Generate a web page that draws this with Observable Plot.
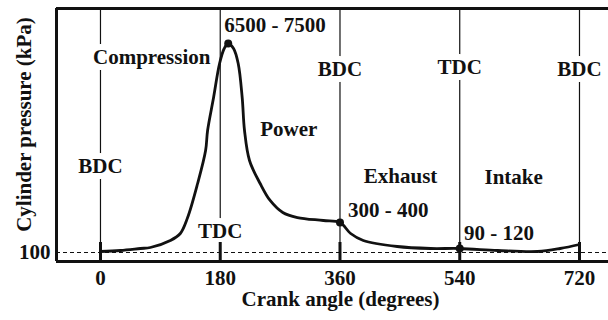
<!DOCTYPE html>
<html><head><meta charset="utf-8">
<script src="https://cdn.jsdelivr.net/npm/d3@7"></script>
<script src="https://cdn.jsdelivr.net/npm/@observablehq/plot@0.6"></script>
<style>body{margin:0;background:#fff} #chart{width:608px;height:320px}</style>
</head><body><div id="chart"></div>
<script>
// Cylinder pressure trace over a 4-stroke cycle (schematic)
const crankAngles = [0, 30, 60, 75, 105, 120, 131, 146, 158, 161, 170, 179, 186, 192, 200, 207, 213, 216.5, 224, 240, 255, 274, 296, 335, 360, 376, 395, 446, 496, 540, 597, 657, 691, 720];
const pressures   = [133, 166, 232, 265, 496, 727, 1255, 2378, 3467, 4127, 5217, 6339, 6834, 7000, 6834, 6339, 5217, 4127, 3137, 2378, 1817, 1420, 1255, 1156, 1090, 727, 496, 298, 232, 232, 166, 133, 232, 364];

const strokeAngles = [0, 180, 360, 540, 720];
const deadCentres = ["BDC", "TDC", "BDC", "TDC", "BDC"];
const deadCentreLabelP = [2741, 595, 5943, 6009, 5943];

const markerAngles = [192, 360, 540];
const markerPressures = [7000, 1090, 232];

const phaseLabels = ["Compression", "Power", "Exhaust", "Intake"];
const phaseAngles = [77, 283, 451, 621];
const phaseP = [6339, 3962, 2378, 2345];

const rangeLabels = ["6500 - 7500", "300 - 400", "90 - 120"];
const rangeAngles = [262.5, 432.7, 599];
const rangeP = [7379, 1288, 529];

const yTicks = [100];
const xDomain = [-66.1, 763.6];
const yDomain = [-197, 8155];

const curve = crankAngles.map((a, i) => ({a, p: pressures[i]}));
const markers = markerAngles.map((a, i) => ({a, p: markerPressures[i]}));
const dc = strokeAngles.map((a, i) => ({a, p: deadCentreLabelP[i], t: deadCentres[i]}));
const phases = phaseLabels.map((t, i) => ({t, a: phaseAngles[i], p: phaseP[i]}));
const ranges = rangeLabels.map((t, i) => ({t, a: rangeAngles[i], p: rangeP[i]}));

const ink = "#111";
const chart = Plot.plot({
  width: 608,
  height: 320,
  marginLeft: 56,
  marginRight: 0,
  marginTop: 8,
  marginBottom: 59,
  style: {fontFamily: "'Liberation Serif', 'Times New Roman', serif", fontSize: "21px", fontWeight: "bold", color: ink, background: "#fff"},
  x: {domain: xDomain},
  y: {domain: yDomain},
  marks: [
    Plot.ruleY(yTicks, {stroke: ink, strokeWidth: 1, strokeDasharray: "4,3"}),
    Plot.ruleX(strokeAngles, {stroke: ink, strokeWidth: 1.2}),
    Plot.text(dc, {x: "a", y: "p", text: "t", lineAnchor: "bottom", fill: ink, stroke: "white", strokeWidth: 12}),
    Plot.text(phases, {x: "a", y: "p", text: "t", lineAnchor: "bottom", fill: ink, stroke: "white", strokeWidth: 12}),
    Plot.text(ranges, {x: "a", y: "p", text: "t", lineAnchor: "bottom", fill: ink}),
    Plot.line(curve, {x: "a", y: "p", curve: "catmull-rom", stroke: ink, strokeWidth: 2.8}),
    Plot.dot(markers, {x: "a", y: "p", r: 4, fill: ink}),
    Plot.ruleX(strokeAngles, {stroke: ink, strokeWidth: 3, insetTop: 234}),
    Plot.ruleX([xDomain[0]], {stroke: ink, strokeWidth: 3}),
    Plot.ruleY([yDomain[1]], {stroke: ink, strokeWidth: 3}),
    Plot.ruleY([yDomain[0]], {stroke: ink, strokeWidth: 3}),
    Plot.axisX(strokeAngles, {tickSize: 0, tickPadding: 9, label: null, fill: ink}),
    Plot.axisY(yTicks, {tickSize: 0, tickPadding: 6, label: null, fill: ink}),
    Plot.text(["Crank angle (degrees)"], {text: d => d, frameAnchor: "bottom", textAnchor: "middle", dx: 8, dy: 44, lineAnchor: "bottom", fill: ink}),
    Plot.text(["Cylinder pressure (kPa)"], {text: d => d, frameAnchor: "left", textAnchor: "middle", rotate: -90, dx: -32.7, dy: -10.5, fill: ink})
  ]
});
document.getElementById("chart").appendChild(chart);
</script>
</body></html>
